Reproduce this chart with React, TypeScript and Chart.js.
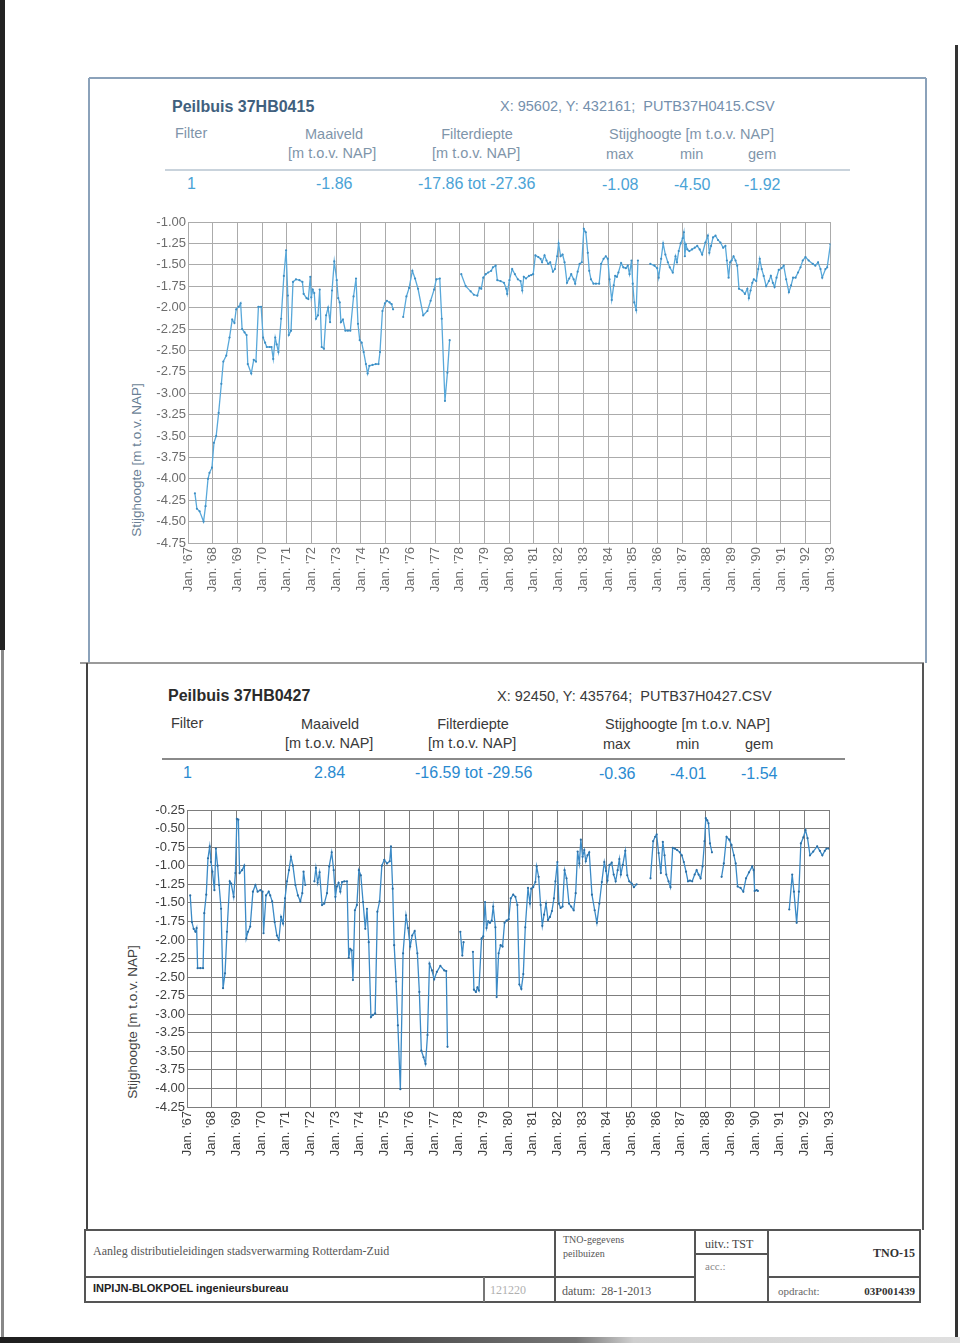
import React, { useEffect, useRef } from "react";
import { Chart, registerables } from "chart.js";

Chart.register(...registerables);

// ---------- DATA ----------
const yearStart = 1967;
const yearEnd = 1993;
const levelStep = 0.25;

const topYMin = -4.75;
const topYMax = -1.0;
const bottomYMin = -4.25;
const bottomYMax = -0.25;

// Peilbuis 37HB0415 (null = no measurements)
const topYears = [
  1967.28, 1967.36, 1967.47, 1967.63, 1967.71, 1967.81, 1967.87, 1967.97, 1968.05, 1968.14,
  1968.24, 1968.35, 1968.43, 1968.55, 1968.68, 1968.79, 1968.88, 1968.95, 1969.05, 1969.13,
  1969.19, 1969.29, 1969.37, 1969.42, 1969.56, 1969.66, 1969.75, 1969.85, 1969.96, 1970.04,
  1970.12, 1970.19, 1970.30, 1970.38, 1970.45, 1970.53, 1970.59, 1970.66, 1970.77, 1970.88,
  1970.97, 1971.04, 1971.08, 1971.17, 1971.25, 1971.37, 1971.51, 1971.63, 1971.68, 1971.80,
  1971.87, 1971.95, 1971.99, 1972.05, 1972.11, 1972.18, 1972.26, 1972.33, 1972.41, 1972.50,
  1972.59, 1972.67, 1972.75, 1972.83, 1972.92, 1973.02, 1973.08, 1973.14, 1973.19, 1973.27,
  1973.37, 1973.47, 1973.57, 1973.70, 1973.80, 1973.88, 1973.95, 1974.03, 1974.11, 1974.20,
  1974.27, 1974.34, 1974.47, 1974.60, 1974.71, 1974.77, 1974.87, 1974.97, 1975.05, 1975.16,
  1975.24, 1975.30, 1975.50,
  1975.71, 1975.84, 1975.95, 1976.08, 1976.19, 1976.31, 1976.52, 1976.69, 1976.82, 1976.96,
  1977.05, 1977.19, 1977.27, 1977.40, 1977.50, 1977.59, 1977.80,
  1978.06, 1978.24, 1978.44, 1978.57, 1978.71, 1978.80, 1978.87, 1978.95, 1979.05, 1979.15,
  1979.27, 1979.34, 1979.45, 1979.52, 1979.65, 1979.79, 1979.88, 1979.92, 1980.01, 1980.12,
  1980.23, 1980.35, 1980.46, 1980.53, 1980.59, 1980.68, 1980.80, 1980.89, 1980.97, 1981.06,
  1981.18, 1981.27, 1981.33, 1981.43, 1981.51, 1981.58, 1981.66, 1981.77, 1981.85, 1981.94,
  1982.00, 1982.08, 1982.16, 1982.24, 1982.34, 1982.43, 1982.51, 1982.61, 1982.67, 1982.77,
  1982.85, 1982.94, 1983.02, 1983.10, 1983.18, 1983.24, 1983.31, 1983.41, 1983.51, 1983.64,
  1983.72, 1983.82, 1983.91, 1983.99, 1984.06, 1984.15, 1984.23, 1984.29, 1984.36, 1984.42,
  1984.53, 1984.62, 1984.72, 1984.80, 1984.87, 1984.95, 1985.00, 1985.06, 1985.14, 1985.21,
  1985.45,
  1985.71, 1985.88, 1985.99, 1986.05, 1986.15, 1986.23, 1986.32, 1986.42, 1986.50, 1986.62,
  1986.73, 1986.79, 1986.86, 1986.94, 1987.02, 1987.07, 1987.11, 1987.15, 1987.21, 1987.29,
  1987.40, 1987.51, 1987.61, 1987.71, 1987.81, 1987.94, 1988.04, 1988.10, 1988.17, 1988.25,
  1988.35, 1988.45, 1988.55, 1988.66, 1988.75, 1988.81, 1988.88, 1988.94, 1989.00, 1989.08,
  1989.16, 1989.23, 1989.30, 1989.43, 1989.54, 1989.64, 1989.70, 1989.77, 1989.84, 1989.90,
  1990.00, 1990.08, 1990.14, 1990.22, 1990.30, 1990.40, 1990.51, 1990.59, 1990.67, 1990.74,
  1990.82, 1990.91, 1991.02, 1991.11, 1991.21, 1991.32, 1991.41, 1991.49, 1991.59, 1991.69,
  1991.79, 1991.88, 1991.99, 1992.12, 1992.29, 1992.39, 1992.50, 1992.60, 1992.67, 1992.80,
  1992.87, 1993.0,
];
const topLevels = [
  -4.17, -4.35, -4.38, -4.50, -4.32, -4.00, -3.93, -3.87, -3.58, -3.50,
  -3.23, -2.89, -2.63, -2.56, -2.35, -2.14, -2.18, -2.02, -1.99, -1.95,
  -2.25, -2.29, -2.32, -2.66, -2.77, -2.61, -2.63, -1.99, -1.99, -2.35,
  -2.41, -2.46, -2.46, -2.46, -2.60, -2.35, -2.43, -2.52, -2.13, -1.63,
  -1.33, -1.86, -2.32, -2.27, -1.70, -1.67, -1.68, -1.70, -1.84, -1.89,
  -1.90, -1.64, -1.88, -1.79, -1.83, -2.13, -2.09, -1.79, -2.46, -2.48,
  -2.09, -2.00, -2.17, -1.80, -1.46, -1.68, -1.89, -1.94, -2.17, -2.14,
  -2.27, -2.27, -2.27, -1.87, -1.66, -2.19, -2.38, -2.41, -2.52, -2.66,
  -2.77, -2.68, -2.67, -2.66, -2.66, -2.52, -2.04, -1.95, -1.92, -1.94,
  -1.96, -2.02, null,
  -2.11, -1.87, -1.77, -1.57, -1.66, -1.78, -2.09, -2.04, -1.92, -1.79,
  -1.67, -1.66, -2.13, -3.09, -2.76, -2.38, null,
  -1.61, -1.75, -1.81, -1.85, -1.86, -1.77, -1.78, -1.65, -1.61, -1.59,
  -1.57, -1.53, -1.51, -1.68, -1.69, -1.71, -1.78, -1.84, -1.68, -1.55,
  -1.61, -1.67, -1.69, -1.80, -1.64, -1.66, -1.63, -1.62, -1.61, -1.39,
  -1.41, -1.43, -1.47, -1.39, -1.45, -1.49, -1.47, -1.58, -1.55, -1.40,
  -1.25, -1.40, -1.38, -1.47, -1.71, -1.66, -1.61, -1.67, -1.72, -1.58,
  -1.49, -1.47, -1.08, -1.12, -1.36, -1.57, -1.67, -1.72, -1.72, -1.72,
  -1.49, -1.43, -1.40, -1.43, -1.67, -1.91, -1.74, -1.63, -1.64, -1.59,
  -1.48, -1.53, -1.54, -1.51, -1.61, -1.45, -1.72, -1.94, -2.03, -1.45,
  null,
  -1.49, -1.51, -1.54, -1.65, -1.43, -1.25, -1.38, -1.47, -1.53, -1.59,
  -1.40, -1.47, -1.34, -1.25, -1.19, -1.12, -1.40, -1.26, -1.32, -1.34,
  -1.32, -1.30, -1.28, -1.32, -1.38, -1.24, -1.16, -1.36, -1.28, -1.18,
  -1.16, -1.21, -1.24, -1.30, -1.28, -1.45, -1.65, -1.47, -1.45, -1.40,
  -1.45, -1.51, -1.78, -1.80, -1.84, -1.78, -1.89, -1.80, -1.71, -1.67,
  -1.69, -1.55, -1.43, -1.55, -1.63, -1.75, -1.69, -1.63, -1.71, -1.76,
  -1.65, -1.56, -1.54, -1.51, -1.67, -1.82, -1.74, -1.65, -1.65, -1.59,
  -1.53, -1.45, -1.41, -1.45, -1.49, -1.51, -1.47, -1.55, -1.65, -1.55,
  -1.53, -1.26,
];

// Peilbuis 37HB0427 (null = no measurements)
const bottomYears = [
  1967.13, 1967.20, 1967.27, 1967.34, 1967.39, 1967.43, 1967.54, 1967.65, 1967.70, 1967.78,
  1967.85, 1967.92, 1967.97, 1968.03, 1968.11, 1968.17, 1968.24, 1968.30, 1968.38, 1968.46,
  1968.54, 1968.62, 1968.73, 1968.79, 1968.89, 1968.96, 1969.02, 1969.08, 1969.13, 1969.23,
  1969.32, 1969.40, 1969.47, 1969.56, 1969.67, 1969.77, 1969.86, 1969.97, 1970.06, 1970.10,
  1970.20, 1970.31, 1970.37, 1970.45, 1970.55, 1970.64, 1970.72, 1970.81, 1970.89, 1970.97,
  1971.05, 1971.13, 1971.21, 1971.29, 1971.39, 1971.49, 1971.59, 1971.67, 1971.72, 1971.79,
  1972.00,
  1972.16, 1972.22, 1972.29, 1972.37, 1972.47, 1972.56, 1972.67, 1972.76, 1972.86, 1972.94,
  1973.01, 1973.07, 1973.14, 1973.21, 1973.28, 1973.37, 1973.48, 1973.55, 1973.61, 1973.67,
  1973.72, 1973.80, 1973.88, 1973.96, 1974.04, 1974.13, 1974.22, 1974.29, 1974.36, 1974.45,
  1974.53, 1974.62, 1974.71, 1974.80, 1974.89, 1974.99, 1975.10, 1975.21, 1975.26, 1975.33,
  1975.39, 1975.47, 1975.54, 1975.64, 1975.75, 1975.87, 1975.95, 1976.04, 1976.12, 1976.22,
  1976.33, 1976.41, 1976.49, 1976.58, 1976.66, 1976.74, 1976.82, 1976.92, 1977.01, 1977.12,
  1977.26, 1977.42, 1977.50, 1977.55, 1977.80,
  1978.07, 1978.15, 1978.20, 1978.40,
  1978.58, 1978.62, 1978.70, 1978.76, 1978.82, 1978.93, 1979.00, 1979.07, 1979.13, 1979.20,
  1979.27, 1979.34, 1979.40, 1979.49, 1979.54, 1979.62, 1979.70, 1979.78, 1979.86, 1979.94,
  1980.03, 1980.11, 1980.21, 1980.30, 1980.38, 1980.46, 1980.54, 1980.62, 1980.70, 1980.81,
  1980.89, 1980.94, 1981.02, 1981.11, 1981.16, 1981.24, 1981.32, 1981.39, 1981.46, 1981.54,
  1981.62, 1981.70, 1981.78, 1981.86, 1981.92, 1982.00, 1982.06, 1982.13, 1982.21, 1982.29,
  1982.37, 1982.47, 1982.56, 1982.66, 1982.74, 1982.82, 1982.89, 1982.95, 1983.02, 1983.09,
  1983.15, 1983.22, 1983.29, 1983.40, 1983.51, 1983.60, 1983.70, 1983.80, 1983.90, 1983.97,
  1984.03, 1984.11, 1984.20, 1984.28, 1984.36, 1984.44, 1984.51, 1984.57, 1984.65, 1984.75,
  1984.83, 1984.91, 1985.01, 1985.10, 1985.21, 1985.50,
  1985.77, 1985.88, 1985.96, 1986.02, 1986.10, 1986.19, 1986.27, 1986.34, 1986.41, 1986.50,
  1986.58, 1986.67, 1986.76, 1986.85, 1986.96, 1987.04, 1987.12, 1987.21, 1987.29, 1987.37,
  1987.46, 1987.56, 1987.64, 1987.72, 1987.80, 1987.88, 1987.96, 1988.01, 1988.07, 1988.12,
  1988.18, 1988.26, 1988.45,
  1988.65, 1988.74, 1988.85, 1988.96, 1989.05, 1989.15, 1989.22, 1989.30, 1989.42, 1989.53,
  1989.64, 1989.76, 1989.89, 1989.95, 1989.99, 1990.07, 1990.12, 1990.70,
  1991.39, 1991.51, 1991.58, 1991.69, 1991.78, 1991.86, 1991.96, 1992.05, 1992.13, 1992.23,
  1992.36, 1992.52, 1992.63, 1992.73, 1992.83, 1992.90, 1993.0,
];
const bottomLevels = [
  -1.40, -1.76, -1.85, -1.89, -1.84, -2.38, -2.38, -2.38, -1.64, -1.39,
  -0.90, -0.74, -0.95, -1.08, -1.33, -0.77, -1.00, -1.26, -1.58, -2.65,
  -2.45, -1.89, -1.21, -1.24, -1.42, -1.10, -0.37, -0.38, -1.10, -1.06,
  -1.00, -1.98, -1.89, -1.82, -1.35, -1.26, -1.35, -1.33, -1.35, -1.91,
  -1.40, -1.35, -1.40, -1.48, -1.76, -1.94, -2.00, -1.69, -1.78, -1.44,
  -1.21, -1.06, -0.88, -1.00, -1.26, -1.40, -1.48, -1.37, -1.08, -1.26,
  null,
  -1.21, -1.03, -1.23, -1.09, -1.53, -1.51, -1.37, -1.01, -0.82, -1.06,
  -1.42, -1.28, -1.23, -1.35, -1.22, -1.21, -1.21, -2.24, -2.12, -2.14,
  -2.54, -1.60, -1.53, -1.06, -1.13, -1.49, -1.85, -1.58, -2.03, -3.04,
  -3.01, -2.99, -1.62, -1.48, -1.00, -0.92, -0.97, -0.94, -0.74, -1.31,
  -2.07, -2.56, -3.15, -4.01, -2.18, -1.67, -1.84, -2.09, -1.94, -1.88,
  -2.18, -2.70, -3.49, -3.58, -3.67, -3.28, -2.32, -2.41, -2.53, -2.43,
  -2.35, -2.41, -2.42, -3.44, null,
  -1.89, -2.21, -2.03, null,
  -2.16, -2.67, -2.70, -2.64, -2.68, -1.98, -1.95, -1.49, -1.84, -1.75,
  -1.77, -1.74, -1.55, -1.83, -2.77, -2.18, -2.07, -2.09, -1.77, -1.74,
  -1.72, -1.44, -1.39, -1.42, -1.53, -2.60, -2.66, -2.46, -1.83, -1.30,
  -1.51, -1.31, -1.29, -1.22, -1.01, -1.15, -1.53, -1.81, -1.66, -1.51,
  -1.73, -1.69, -1.61, -1.44, -1.21, -0.95, -1.51, -1.57, -1.55, -1.06,
  -1.17, -1.51, -1.55, -1.60, -1.37, -0.81, -0.97, -0.65, -0.88, -0.79,
  -0.94, -0.86, -0.82, -1.39, -1.60, -1.77, -1.51, -1.22, -0.95, -1.07,
  -1.20, -0.99, -0.96, -1.12, -1.21, -1.06, -0.91, -1.12, -0.99, -0.80,
  -1.13, -1.21, -1.24, -1.29, -1.25, null,
  -1.17, -0.67, -0.61, -0.58, -0.83, -1.10, -0.68, -0.86, -1.12, -1.21,
  -1.29, -0.76, -0.77, -0.79, -0.82, -0.86, -0.95, -1.08, -1.21, -1.20,
  -1.21, -1.12, -1.06, -1.12, -1.17, -1.01, -0.67, -0.36, -0.39, -0.43,
  -0.70, -0.82, null,
  -1.15, -0.97, -0.61, -0.65, -0.72, -0.86, -0.97, -1.28, -1.30, -1.35,
  -1.17, -1.09, -1.01, -1.06, -1.34, -1.33, -1.34, null,
  -1.59, -1.12, -1.35, -1.77, -1.35, -0.70, -0.62, -0.52, -0.63, -0.86,
  -0.81, -0.74, -0.80, -0.86, -0.80, -0.77, -0.77,
];

// ---------- HELPERS ----------
const SANS = '"Liberation Sans", Arial, Helvetica, sans-serif';
const SERIF = '"Liberation Serif", "Times New Roman", serif';

const yearLabel = (v: number) => "Jan. '" + String(Math.round(v)).slice(2);

type ChartSpec = {
  years: number[];
  levels: (number | null)[];
  yMin: number;
  yMax: number;
  left: number;
  top: number;
  width: number;
  height: number;
  axisW: number;
  axisH: number;
  padRight: number;
  padTop: number;
  lineColor: string;
  pointColor: string;
  gridColor: string;
  tickColor: string;
};

function LevelChart(p: ChartSpec) {
  const ref = useRef<HTMLCanvasElement>(null);
  useEffect(() => {
    const pts = p.years.map((x, i) => ({ x, y: p.levels[i] }));
    const font = { family: SANS, size: 13 };
    const chart = new Chart(ref.current as HTMLCanvasElement, {
      type: "line",
      data: {
        datasets: [
          {
            data: pts as any,
            borderColor: p.lineColor,
            borderWidth: 1.3,
            pointRadius: 1.1,
            pointBackgroundColor: p.pointColor,
            pointBorderWidth: 0,
            spanGaps: false,
            tension: 0,
          },
        ],
      },
      options: {
        animation: false,
        responsive: false,
        layout: { padding: { left: 0, right: p.padRight, top: p.padTop, bottom: 0 } },
        plugins: { legend: { display: false }, tooltip: { enabled: false } },
        scales: {
          x: {
            type: "linear",
            min: yearStart,
            max: yearEnd,
            afterFit: (s: any) => {
              s.height = p.axisH;
            },
            ticks: {
              stepSize: 1,
              autoSkip: false,
              minRotation: 90,
              maxRotation: 90,
              padding: 4,
              color: p.tickColor,
              font,
              callback: (v: any) => yearLabel(Number(v)),
            },
            grid: { color: p.gridColor, lineWidth: 1, drawTicks: false },
            border: { color: p.gridColor, width: 1 },
          },
          y: {
            type: "linear",
            min: p.yMin,
            max: p.yMax,
            afterFit: (s: any) => {
              s.width = p.axisW;
            },
            ticks: {
              stepSize: levelStep,
              autoSkip: false,
              padding: 2,
              color: p.tickColor,
              font,
              callback: (v: any) => Number(v).toFixed(2),
            },
            grid: { color: p.gridColor, lineWidth: 1, drawTicks: false },
            border: { color: p.gridColor, width: 1 },
          },
        },
      },
    });
    return () => chart.destroy();
  }, []);
  return (
    <canvas
      ref={ref}
      width={p.width}
      height={p.height}
      style={{ position: "absolute", left: p.left, top: p.top, width: p.width, height: p.height }}
    />
  );
}

type TProps = {
  x: number;
  y: number;
  size?: number;
  bold?: boolean;
  color?: string;
  align?: "left" | "center" | "right";
  family?: string;
  children: React.ReactNode;
};

function T({ x, y, size = 14.5, bold = false, color = "#333", align = "left", family = SANS, children }: TProps) {
  const shift = align === "center" ? "-50%" : align === "right" ? "-100%" : "0";
  return (
    <div
      style={{
        position: "absolute",
        left: x,
        top: y - size * 0.6,
        fontSize: size,
        lineHeight: `${size * 1.2}px`,
        fontFamily: family,
        fontWeight: bold ? 700 : 400,
        color,
        whiteSpace: "pre",
        transform: `translateX(${shift})`,
      }}
    >
      {children}
    </div>
  );
}

function VTitle({ x, y, color, children }: { x: number; y: number; color: string; children: React.ReactNode }) {
  return (
    <div
      style={{
        position: "absolute",
        left: x,
        top: y,
        fontSize: 13.5,
        lineHeight: "16px",
        fontFamily: SANS,
        color,
        whiteSpace: "pre",
        transform: "translate(-50%, -50%) rotate(-90deg)",
      }}
    >
      {children}
    </div>
  );
}

function Line({ x1, y1, x2, y2, w = 1, color = "#555" }: { x1: number; y1: number; x2: number; y2: number; w?: number; color?: string }) {
  const horiz = y1 === y2;
  return (
    <div
      style={{
        position: "absolute",
        left: horiz ? x1 : x1 - w / 2,
        top: horiz ? y1 - w / 2 : y1,
        width: horiz ? x2 - x1 : w,
        height: horiz ? w : y2 - y1,
        background: color,
      }}
    />
  );
}

export default function App() {
  const topHead = "#7f95aa";
  const topVal = "#4aa3d6";
  const botHead = "#3a3a3a";
  const botVal = "#2a8ad0";
  return (
    <div
      style={{
        position: "absolute",
        left: 0,
        top: 0,
        width: 960,
        height: 1343,
        background: "#ffffff",
        overflow: "hidden",
      }}
    >
      {/* scan edges */}
      <Line x1={2.5} y1={0} x2={2.5} y2={650} w={5} color="#222" />
      <Line x1={2} y1={650} x2={2} y2={1343} w={3} color="#888" />
      <Line x1={956} y1={45} x2={956} y2={1343} w={3} color="#333" />
      <div
        style={{
          position: "absolute",
          left: 0,
          top: 1337,
          width: 960,
          height: 6,
          background: "linear-gradient(to right, #1e1e1e 0%, #333 30%, #777 60%, #cfcfcf 66%, #e0e0e0 100%)",
        }}
      />

      {/* frame */}
      <Line x1={89} y1={78} x2={926} y2={78} w={1.5} color="#8ba2ba" />
      <Line x1={89} y1={78} x2={89} y2={663} w={1.5} color="#8ba2ba" />
      <Line x1={926} y1={78} x2={926} y2={663} w={1.5} color="#8ba2ba" />
      <Line x1={80} y1={663} x2={924} y2={663} w={1.5} color="#9a9a9a" />
      <Line x1={87} y1={663} x2={87} y2={1230} w={2} color="#444" />
      <Line x1={923} y1={663} x2={923} y2={1230} w={2} color="#555" />

      {/* ---- top header ---- */}
      <T x={172} y={107} size={16} bold color="#40607e">Peilbuis 37HB0415</T>
      <T x={500} y={107} color="#7590ad">X: 95602, Y: 432161;  PUTB37H0415.CSV</T>
      <T x={175} y={134} color={topHead}>Filter</T>
      <T x={334} y={135} align="center" color={topHead}>Maaiveld</T>
      <T x={288} y={154} color={topHead}>[m t.o.v. NAP]</T>
      <T x={477} y={135} align="center" color={topHead}>Filterdiepte</T>
      <T x={432} y={154} color={topHead}>[m t.o.v. NAP]</T>
      <T x={609} y={135} color={topHead}>Stijghoogte [m t.o.v. NAP]</T>
      <T x={606} y={155} color={topHead}>max</T>
      <T x={680} y={155} color={topHead}>min</T>
      <T x={748} y={155} color={topHead}>gem</T>
      <Line x1={165} y1={170} x2={850} y2={170} w={1.5} color="#c9d3dc" />
      <T x={187} y={184} size={16} color={topVal}>1</T>
      <T x={316} y={184} size={16} color={topVal}>-1.86</T>
      <T x={418} y={184} size={16} color={topVal}>-17.86 tot -27.36</T>
      <T x={602} y={185} size={16} color={topVal}>-1.08</T>
      <T x={674} y={185} size={16} color={topVal}>-4.50</T>
      <T x={744} y={185} size={16} color={topVal}>-1.92</T>

      <VTitle x={137} y={460} color="#6a7f95">Stijghoogte [m t.o.v. NAP]</VTitle>
      <LevelChart
        years={topYears}
        levels={topLevels}
        yMin={topYMin}
        yMax={topYMax}
        left={100}
        top={205}
        width={750}
        height={400}
        axisW={88}
        axisH={62}
        padRight={18}
        padTop={17}
        lineColor="#58a8da"
        pointColor="#3f8fc4"
        gridColor="#ababab"
        tickColor="#6d6d6d"
      />

      {/* ---- bottom header ---- */}
      <T x={168} y={696} size={16} bold color="#2b2b2b">Peilbuis 37HB0427</T>
      <T x={497} y={697} color={botHead}>X: 92450, Y: 435764;  PUTB37H0427.CSV</T>
      <T x={171} y={724} color={botHead}>Filter</T>
      <T x={330} y={725} align="center" color={botHead}>Maaiveld</T>
      <T x={285} y={744} color={botHead}>[m t.o.v. NAP]</T>
      <T x={473} y={725} align="center" color={botHead}>Filterdiepte</T>
      <T x={428} y={744} color={botHead}>[m t.o.v. NAP]</T>
      <T x={605} y={725} color={botHead}>Stijghoogte [m t.o.v. NAP]</T>
      <T x={603} y={745} color={botHead}>max</T>
      <T x={676} y={745} color={botHead}>min</T>
      <T x={745} y={745} color={botHead}>gem</T>
      <Line x1={162} y1={759} x2={845} y2={759} w={1.5} color="#8a8a8a" />
      <T x={183} y={773} size={16} color={botVal}>1</T>
      <T x={314} y={773} size={16} color={botVal}>2.84</T>
      <T x={415} y={773} size={16} color={botVal}>-16.59 tot -29.56</T>
      <T x={599} y={774} size={16} color={botVal}>-0.36</T>
      <T x={670} y={774} size={16} color={botVal}>-4.01</T>
      <T x={741} y={774} size={16} color={botVal}>-1.54</T>

      <VTitle x={133} y={1022} color="#444">Stijghoogte [m t.o.v. NAP]</VTitle>
      <LevelChart
        years={bottomYears}
        levels={bottomLevels}
        yMin={bottomYMin}
        yMax={bottomYMax}
        left={100}
        top={793}
        width={750}
        height={370}
        axisW={87}
        axisH={56}
        padRight={21}
        padTop={17}
        lineColor="#3b8ac6"
        pointColor="#2c6fa5"
        gridColor="#7d7d7d"
        tickColor="#3f3f3f"
      />

      {/* ---- title block ---- */}
      <Line x1={84} y1={1230} x2={921} y2={1230} w={2} color="#555" />
      <Line x1={84} y1={1302} x2={921} y2={1302} w={2} color="#555" />
      <Line x1={85} y1={1230} x2={85} y2={1303} w={2} color="#555" />
      <Line x1={920} y1={1230} x2={920} y2={1303} w={2} color="#555" />
      <Line x1={84} y1={1277} x2={695} y2={1277} w={2} color="#555" />
      <Line x1={768} y1={1277} x2={920} y2={1277} w={2} color="#555" />
      <Line x1={695} y1={1254} x2={768} y2={1254} w={2} color="#555" />
      <Line x1={484} y1={1277} x2={484} y2={1302} w={1.5} color="#777" />
      <Line x1={555} y1={1230} x2={555} y2={1302} w={2} color="#555" />
      <Line x1={695} y1={1230} x2={695} y2={1302} w={2} color="#555" />
      <Line x1={768} y1={1230} x2={768} y2={1302} w={2} color="#555" />

      <T x={93} y={1251} size={12} family={SERIF} color="#555">Aanleg distributieleidingen stadsverwarming Rotterdam-Zuid</T>
      <T x={93} y={1289} size={11} bold color="#222">INPIJN-BLOKPOEL ingenieursbureau</T>
      <T x={490} y={1290} size={12} family={SERIF} color="#b0b0b0">121220</T>
      <T x={563} y={1240} size={10} family={SERIF} color="#555">TNO-gegevens</T>
      <T x={563} y={1254} size={10} family={SERIF} color="#555">peilbuizen</T>
      <T x={562} y={1291} size={12} family={SERIF} color="#555">datum:  28-1-2013</T>
      <T x={705} y={1244} size={12} family={SERIF} color="#444">uitv.: TST</T>
      <T x={705} y={1267} size={11} family={SERIF} color="#888">acc.:</T>
      <T x={915} y={1253} size={12} bold family={SERIF} color="#333" align="right">TNO-15</T>
      <T x={778} y={1292} size={11} family={SERIF} color="#666">opdracht:</T>
      <T x={915} y={1292} size={11} bold family={SERIF} color="#333" align="right">03P001439</T>
    </div>
  );
}
